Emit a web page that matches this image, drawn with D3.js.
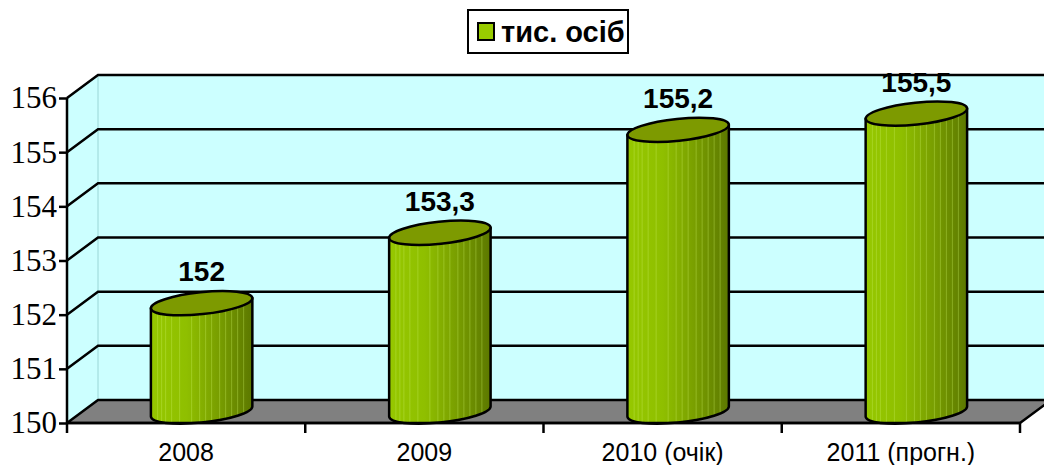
<!DOCTYPE html>
<html><head><meta charset="utf-8">
<script src="https://cdn.jsdelivr.net/npm/d3@7/dist/d3.min.js"></script>
<style>body{margin:0;background:#fff}svg{display:block}</style>
</head><body>
<svg id="c" width="1044" height="465"></svg>
<script>
const categories = ["2008", "2009", "2010 (очік)", "2011 (прогн.)"];
const values = [152, 153.3, 155.2, 155.5];
const valueLabels = ["152", "153,3", "155,2", "155,5"];
const yTicks = [150, 151, 152, 153, 154, 155, 156];
const seriesName = "тис. осіб";

const svg = d3.select("#c");
const X0 = 67, X1 = 1020, DX = 31, DY = -23;
const x = d3.scaleBand().domain(categories).range([X0, X1]);
const y = d3.scaleLinear().domain([150, 156]).range([423, 98]);

const defs = svg.append("defs");
const g1 = defs.append("linearGradient").attr("id", "body").attr("x1", 0).attr("x2", 1).attr("y1", 0).attr("y2", 0);
[[0, "#96c800"], [0.35, "#8fbf00"], [0.65, "#7aa000"], [1, "#5c7800"]].forEach(s =>
  g1.append("stop").attr("offset", s[0]).attr("stop-color", s[1]));

// walls
const yTop = y(156), yBot = y(150);
svg.append("path").attr("d", `M${X0},${yTop}L${X0+DX},${yTop+DY}L${X0+DX},${yBot+DY}L${X0},${yBot}Z`)
  .attr("fill", "#ccffff");
svg.append("rect").attr("x", X0+DX).attr("y", yTop+DY).attr("width", X1 - X0 + 10).attr("height", yBot - yTop)
  .attr("fill", "#ccffff");
svg.append("line").attr("x1", X0+DX).attr("x2", X0+DX).attr("y1", yTop+DY).attr("y2", yBot+DY)
  .attr("stroke", "#9ad6d6").attr("stroke-width", 1);
// floor
svg.append("path").attr("d", `M${X0},${yBot}L${X0+DX},${yBot+DY}L${X1+DX},${yBot+DY}L${X1},${yBot}Z`)
  .attr("fill", "#808080").attr("stroke", "#000").attr("stroke-width", 2.5).attr("stroke-linejoin", "round");

// gridlines
yTicks.slice(1).forEach(t => {
  const yy = y(t);
  svg.append("path").attr("d", `M${X0},${yy}L${X0+DX},${yy+DY}L${1044},${yy+DY}`)
    .attr("fill", "none").attr("stroke", "#000").attr("stroke-width", 2.5);
});

// cylinders
const rx = 51, ry = 11, phi = -6 * Math.PI / 180;
const tanT = -ry * Math.sin(phi) / (rx * Math.cos(phi));
const th = Math.atan(tanT);
const ex = rx * Math.cos(th) * Math.cos(phi) - ry * Math.sin(th) * Math.sin(phi);
const ey = rx * Math.cos(th) * Math.sin(phi) + ry * Math.sin(th) * Math.cos(phi);
const stripeOffsets = [-44, -40, -36, -30, -22, -10, -2, 4, 10, 18, 24, 30, 36, 42];

values.forEach((v, i) => {
  const cx = x(categories[i]) + x.bandwidth() / 2 + DX / 2;
  const by = y(150) + DY / 2, ty = y(v) + DY / 2;
  const rot = phi * 180 / Math.PI;
  const d = `M${cx - ex},${ty - ey}L${cx - ex},${by - ey}` +
    `A${rx},${ry} ${rot} 0 0 ${cx + ex},${by + ey}` +
    `L${cx + ex},${ty + ey}Z`;
  const cid = "clip" + i;
  defs.append("clipPath").attr("id", cid).append("path").attr("d", d);
  svg.append("path").attr("d", d).attr("fill", "url(#body)");
  const sg = svg.append("g").attr("clip-path", `url(#${cid})`);
  stripeOffsets.forEach(o => sg.append("line").attr("x1", cx + o).attr("x2", cx + o)
    .attr("y1", ty - 20).attr("y2", by + 20).attr("stroke", "#c8f060").attr("stroke-opacity", 0.35).attr("stroke-width", 1));
  svg.append("path").attr("d", d).attr("fill", "none").attr("stroke", "#000").attr("stroke-width", 2.5).attr("stroke-linejoin", "round");
  svg.append("ellipse").attr("cx", cx).attr("cy", ty).attr("rx", rx).attr("ry", ry)
    .attr("transform", `rotate(${rot},${cx},${ty})`)
    .attr("fill", "#7d9a00").attr("stroke", "#000").attr("stroke-width", 2.5);
  svg.append("text").attr("x", cx).attr("y", ty - 22).attr("text-anchor", "middle")
    .style("font-family", "'Liberation Sans', Arial, sans-serif").style("font-weight", "bold").style("font-size", "28px")
    .attr("fill", "#000").text(valueLabels[i]);
});

// axes
const yAxis = svg.append("g").attr("transform", `translate(${X0},0)`)
  .call(d3.axisLeft(y).tickValues(yTicks).tickSize(8).tickPadding(2).tickFormat(d3.format("d")));
yAxis.attr("font-family", null).attr("font-size", null);
yAxis.select(".domain").attr("stroke", "#000").attr("stroke-width", 2.5).attr("d", `M0,${yTop}V${yBot}`);
yAxis.selectAll(".tick line").attr("stroke", "#000").attr("stroke-width", 2.5);
yAxis.selectAll("text").style("font-family", "'Liberation Serif', 'DejaVu Serif', serif").style("font-size", "31px").attr("fill", "#000");

const xAxis = svg.append("g").attr("transform", `translate(0,${yBot})`)
  .call(d3.axisBottom(x).tickSize(0).tickPadding(0));
xAxis.attr("font-family", null).attr("font-size", null);
xAxis.select(".domain").remove();
svg.append("line").attr("x1", X0).attr("x2", X1).attr("y1", yBot).attr("y2", yBot).attr("stroke", "#000").attr("stroke-width", 2.5);
const bounds = categories.map(c => x(c)).concat([X1]);
bounds.forEach(b => svg.append("line").attr("x1", b).attr("x2", b).attr("y1", yBot).attr("y2", yBot + 10).attr("stroke", "#000").attr("stroke-width", 2.5));
xAxis.selectAll("text").style("font-family", "'Liberation Sans', Arial, sans-serif").style("font-size", "25px").attr("fill", "#000")
  .attr("y", 38).attr("dy", null);

// legend
const lg = svg.append("g");
lg.append("rect").attr("x", 468).attr("y", 10).attr("width", 160).attr("height", 43).attr("fill", "#fff").attr("stroke", "#000").attr("stroke-width", 2);
lg.append("rect").attr("x", 478).attr("y", 23).attr("width", 16).attr("height", 17).attr("fill", "#99cc00").attr("stroke", "#000").attr("stroke-width", 2);
lg.append("text").attr("x", 501).attr("y", 42).style("font-family", "'Liberation Sans', Arial, sans-serif").style("font-weight", "bold")
  .style("font-size", "29px").attr("fill", "#000").text(seriesName);
</script>
</body></html>
